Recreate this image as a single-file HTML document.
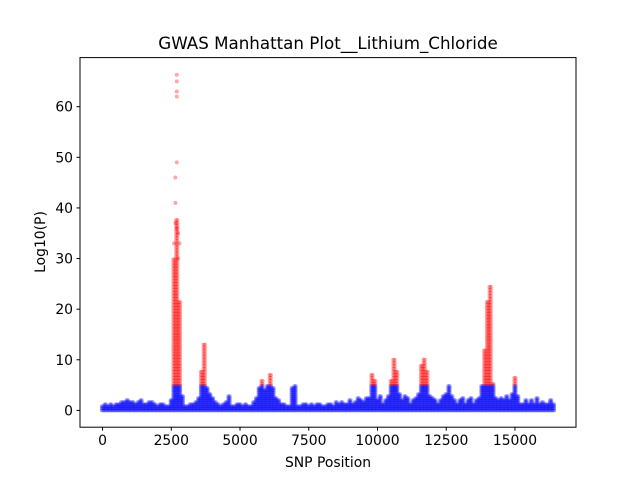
<!DOCTYPE html>
<html><head><meta charset="utf-8"><style>
body{margin:0;background:#fff}
svg{display:block;font-family:"DejaVu Sans","Liberation Sans",sans-serif}
</style></head><body>
<svg id="chart" width="640" height="480" viewBox="0 0 640 480">
<rect width="640" height="480" fill="#fff"/>
<text x="328" y="49" text-anchor="middle" font-size="16.7">GWAS Manhattan Plot__Lithium_Chloride</text>
<g id="points"></g>
<g id="axes"></g>
<text x="328" y="467" text-anchor="middle" font-size="13.9">SNP Position</text>
<text transform="translate(45,242) rotate(-90)" text-anchor="middle" font-size="13.9">Log10(P)</text>
</svg>
<script>
const binStep = 100;
const peakValues = [1.2,1.5,1.0,1.3,1.2,1.5,1.4,1.6,1.8,2.0,1.8,1.6,1.5,1.7,2.0,1.5,1.3,1.6,1.8,1.4,1.2,1.5,1.3,1.0,1.2,
2.0,30,38,22,3.0,
1.0,1.2,1.3,1.5,1.8,2.5,
8,13.5,4.5,3.5,2.5,
1.8,1.5,1.2,1.5,1.8,3.0,
1.2,1.0,1.3,1.5,1.2,1.5,1.0,1.2,1.8,
2.5,4.5,5.8,4,5,7.5,4.5,2.5,2,1.5,1.5,1.2,1.2,4.5,5,
1.2,1.0,1.5,1.3,1.2,1.5,1.0,1.3,1.5,1.2,1.0,1.3,1.5,1.2,1.6,1.5,1.8,1.3,1.5,2.0,1.5,1.8,2.5,2.0,1.8,2.5,
2.5,7.5,6,2.0,3,1.5,2,3,6,10.5,
8,3.5,2,3,2.5,1.5,2,2.5,3.5,9,
10,8,3,2.5,2,1.5,2,3.0,3.5,5,
3,2,1.5,2,2.5,1.5,2,2.5,1.5,2,
2.5,5,12,22,25,5.5,2.5,2,2.5,2,
3,2,3.5,6.5,3,1.5,1.5,2,1.5,2,
1.5,2.5,1.5,1.8,1.5,1.5,2,1.5];
const outlierPos = [2650,2650,2700,2700,2700,2700,2700,2750,2800,2600,2750,2650,2700];
const outlierVal = [41,46,49,62,63,65,66.3,35,33,33,30,37,36];
const xTicks = [0,2500,5000,7500,10000,12500,15000];
const yTicks = [0,10,20,30,40,50,60];
const threshold = 5;

const L=80,R=576,T=57.6,B=427.2;
const xMin=-820,xMax=17220,yMin=-3.32,yMax=69.7;
const sx=v=>L+(v-xMin)/(xMax-xMin)*(R-L);
const sy=v=>B-(v-yMin)/(yMax-yMin)*(B-T);
const NS="http://www.w3.org/2000/svg";
const pts=document.getElementById('points');
function dot(p,v){
  const c=document.createElementNS(NS,'circle');
  c.setAttribute('cx',sx(p).toFixed(2));
  c.setAttribute('cy',sy(v).toFixed(2));
  c.setAttribute('r','2.0');
  c.setAttribute('fill',v>threshold?'#ff0000':'#0000ff');
  c.setAttribute('fill-opacity','0.35');
  
  
  pts.appendChild(c);
}
peakValues.forEach((pk,i)=>{
  const p=i*binStep;
  const offs=[-25,25];
  offs.forEach(o=>{
    for(let v=0;v<=pk;v+=(v>threshold?0.6:0.4)){dot(p+o,v);}
  });
});
outlierPos.forEach((p,i)=>dot(p,outlierVal[i]));

const ax=document.getElementById('axes');
const fr=document.createElementNS(NS,'rect');
fr.setAttribute('x',L);fr.setAttribute('y',T);fr.setAttribute('width',R-L);fr.setAttribute('height',B-T);
fr.setAttribute('fill','none');fr.setAttribute('stroke','#000');fr.setAttribute('stroke-width','1');


ax.appendChild(fr);
xTicks.forEach(t=>{
  const x=sx(t);
  const l=document.createElementNS(NS,'line');
  l.setAttribute('x1',x);l.setAttribute('x2',x);l.setAttribute('y1',B);l.setAttribute('y2',B+3.5);l.setAttribute('stroke','#000');
  
  
  ax.appendChild(l);
  const tx=document.createElementNS(NS,'text');
  tx.setAttribute('x',x);tx.setAttribute('y',B+18);tx.setAttribute('text-anchor','middle');tx.setAttribute('font-size','13.9');
  tx.textContent=t;
  
  
  ax.appendChild(tx);
});
yTicks.forEach(t=>{
  const y=sy(t);
  const l=document.createElementNS(NS,'line');
  l.setAttribute('x1',L-3.5);l.setAttribute('x2',L);l.setAttribute('y1',y);l.setAttribute('y2',y);l.setAttribute('stroke','#000');
  
  
  ax.appendChild(l);
  const tx=document.createElementNS(NS,'text');
  tx.setAttribute('x',L-7);tx.setAttribute('y',y+5);tx.setAttribute('text-anchor','end');tx.setAttribute('font-size','13.9');
  tx.textContent=t;
  
  
  ax.appendChild(tx);
});
</script>
</body></html>
